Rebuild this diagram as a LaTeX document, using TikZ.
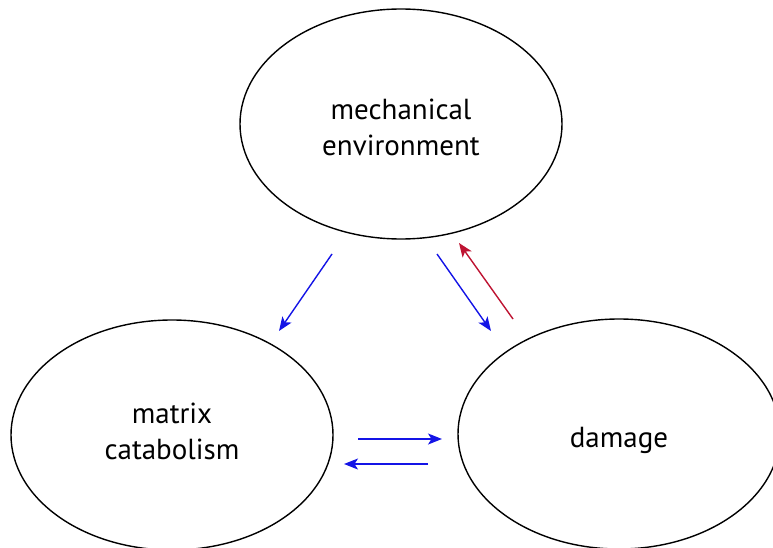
\documentclass[tikz,border=0pt]{standalone}
\usepackage{fontspec}
\setmainfont{PT Sans}
\usetikzlibrary{shapes.geometric,arrows.meta}
\definecolor{arrblue}{RGB}{20,20,230}
\definecolor{arrred}{RGB}{190,20,50}
\tikzset{
  blob/.style={ellipse, draw=black, line width=1.4pt, minimum width=322pt, minimum height=230pt, inner sep=0pt},
  lbl/.style={align=center, inner sep=0pt, font=\fontsize{29}{36}\selectfont},
  conn/.style={line width=1.4pt, -{Stealth[length=14pt,width=11pt,inset=3.5pt]}},
  bluearr/.style={conn, draw=arrblue, fill=arrblue},
  redarr/.style={conn, draw=arrred, fill=arrred}
}
\begin{document}
\begin{tikzpicture}[x=1pt,y=-1pt]
\useasboundingbox (0,0) rectangle (773,548);
\begin{scope}
\clip (0,0) rectangle (773,548);
\node[blob] (mech) at (401,124) {};
\node[blob] (matrix) at (172,435) {};
\node[blob] (damage) at (619,434) {};
\end{scope}
\node[lbl] (mechtxt) at (mech.center) [yshift=-3pt] {mechanical\\environment};
\node[lbl] (matrixtxt) at (matrix.center) [yshift=4pt] {matrix\\catabolism};
\node[lbl] (damagetxt) at (damage.center) [yshift=-6pt] {damage};
\coordinate (a1s) at (332,254);
\coordinate (a1e) at (279,331);
\coordinate (a2s) at (437,254);
\coordinate (a2e) at (491,331);
\coordinate (a3s) at (513,319);
\coordinate (a3e) at (459,243);
\coordinate (a4s) at (358,439);
\coordinate (a4e) at (442,439);
\coordinate (a5s) at (428,464);
\coordinate (a5e) at (344,464);
\draw[bluearr] (a1s) -- (a1e);
\draw[bluearr] (a2s) -- (a2e);
\draw[redarr] (a3s) -- (a3e);
\draw[bluearr] (a4s) -- (a4e);
\draw[bluearr] (a5s) -- (a5e);
\end{tikzpicture}
\end{document}
